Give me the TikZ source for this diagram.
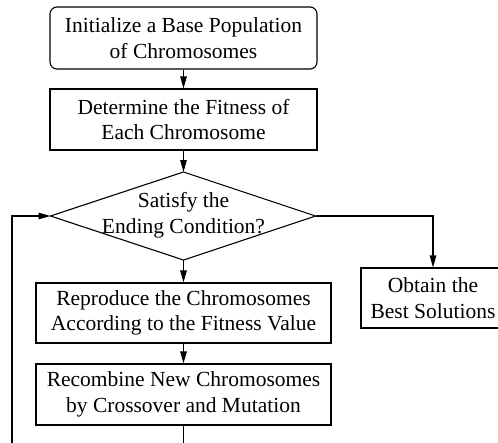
\documentclass[tikz,border=0pt]{standalone}
\usepackage{fontspec}
\setmainfont{Liberation Serif}
\usetikzlibrary{arrows.meta}

\tikzset{
  flow/.style={draw, line width=1.1pt, inner sep=0pt, align=center,
    font=\fontsize{21.5}{25.5}\selectfont},
  stepbox/.style={flow, rectangle},
  startbox/.style={flow, rectangle, rounded corners=7pt},
  label/.style={inner sep=0pt, align=center,
    font=\fontsize{21.5}{26.5}\selectfont},
  link/.style={line width=1.1pt},
  arrowlink/.style={link, -{Triangle[length=12pt,width=6.5pt]}}
}

\begin{document}
\begin{tikzpicture}[x=1pt,y=-1pt]
  \useasboundingbox (0,0) rectangle (498,442);
  \clip (0,0) rectangle (498,442);

  % process steps
  \node[startbox, minimum width=267pt, minimum height=62pt] (init) at (183.5,38)
    {Initialize a Base Population\\of Chromosomes};
  \node[stepbox, minimum width=267pt, minimum height=61pt] (fit) at (183.5,119.5)
    {Determine the Fitness of\\Each Chromosome};

  % decision diamond, drawn from its four corners
  \node[label] (cond) at (183.5,215) {Satisfy the\\Ending Condition?};
  \coordinate (dt) at (183.5,172);
  \coordinate (db) at (183.5,260);
  \coordinate (dl) at (50.5,216);
  \coordinate (dr) at (315.5,216);
  \draw[link, line join=miter] (dt) -- (dr) -- (db) -- (dl) -- cycle;

  \node[stepbox, minimum width=295pt, minimum height=60pt] (repro) at (183.5,313)
    {Reproduce the Chromosomes\\According to the Fitness Value};
  \node[stepbox, minimum width=295pt, minimum height=61pt] (recomb) at (183.5,394.5)
    {Recombine New Chromosomes\\by Crossover and Mutation};
  \node[stepbox, minimum width=144pt, minimum height=60pt] (best) at (433,298)
    {Obtain the\\Best Solutions};

  % loop ends running off the lower edge
  \coordinate (loopdown) at (183.5,446);
  \coordinate (loopup) at (12,446);

  % connectors
  \draw[arrowlink] (init) -- (fit);
  \draw[arrowlink] (fit) -- (dt);
  \draw[arrowlink] (db) -- (repro);
  \draw[arrowlink] (repro) -- (recomb);
  \draw[arrowlink] (dr) -| (best);
  \draw[link] (recomb) -- (loopdown);
  \draw[arrowlink] (loopup) |- (dl);
\end{tikzpicture}
\end{document}
